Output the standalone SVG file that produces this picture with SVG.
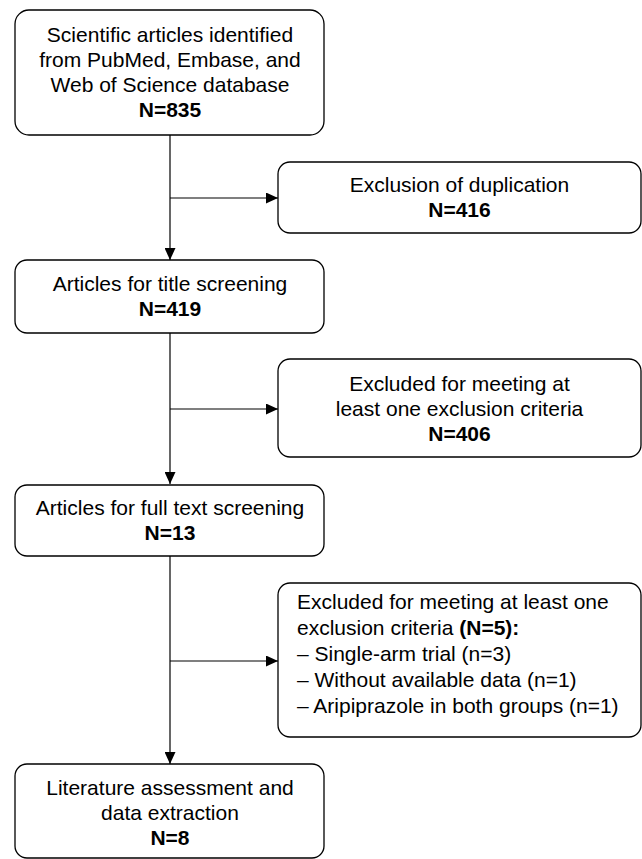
<svg xmlns="http://www.w3.org/2000/svg" width="642" height="859" viewBox="0 0 642 859">
<style>
.box{fill:#fff;stroke:#000;stroke-width:1.3}
.t{font-family:"Liberation Sans",Arial,sans-serif;font-size:21px;fill:#000}
.c{text-anchor:middle}
.b{font-weight:bold}
.ln{stroke:#000;stroke-width:1.2;fill:none}
</style>
<defs>
<marker id="ah" markerUnits="userSpaceOnUse" markerWidth="12" markerHeight="11" refX="12" refY="5.5" orient="auto">
<path d="M0,0 L12,5.5 L0,11 z" fill="#000"/>
</marker>
</defs>
<rect width="642" height="859" fill="#fff"/>
<g id="connectors">
<line class="ln" x1="170" y1="135" x2="170" y2="260" marker-end="url(#ah)"/>
<line class="ln" x1="170" y1="198" x2="278" y2="198" marker-end="url(#ah)"/>
<line class="ln" x1="170" y1="333" x2="170" y2="484" marker-end="url(#ah)"/>
<line class="ln" x1="170" y1="409" x2="278" y2="409" marker-end="url(#ah)"/>
<line class="ln" x1="170" y1="556" x2="170" y2="764" marker-end="url(#ah)"/>
<line class="ln" x1="170" y1="661" x2="278" y2="661" marker-end="url(#ah)"/>
</g>
<g id="n1">
<rect class="box" x="15" y="10" width="309" height="125" rx="14"/>
<text class="t c" x="170" y="42">Scientific articles identified</text>
<text class="t c" x="170" y="67">from PubMed, Embase, and</text>
<text class="t c" x="170" y="92">Web of Science database</text>
<text class="t c b" x="170" y="117">N=835</text>
</g>
<g id="n2">
<rect class="box" x="278" y="162" width="363" height="71" rx="12"/>
<text class="t c" x="459.5" y="192">Exclusion of duplication</text>
<text class="t c b" x="459.5" y="217">N=416</text>
</g>
<g id="n3">
<rect class="box" x="15" y="260" width="309" height="73" rx="12"/>
<text class="t c" x="170" y="291">Articles for title screening</text>
<text class="t c b" x="170" y="316">N=419</text>
</g>
<g id="n4">
<rect class="box" x="278" y="359" width="363" height="98" rx="12"/>
<text class="t c" x="459.5" y="391">Excluded for meeting at</text>
<text class="t c" x="459.5" y="416">least one exclusion criteria</text>
<text class="t c b" x="459.5" y="441">N=406</text>
</g>
<g id="n5">
<rect class="box" x="15" y="485" width="309" height="71" rx="12"/>
<text class="t c" x="170" y="515">Articles for full text screening</text>
<text class="t c b" x="170" y="540">N=13</text>
</g>
<g id="n6">
<rect class="box" x="278" y="583" width="363" height="154" rx="12"/>
<text class="t" x="297" y="609">Excluded for meeting at least one</text>
<text class="t" x="297" y="635">exclusion criteria <tspan class="b">(N=5):</tspan></text>
<text class="t" x="297" y="661">– Single-arm trial (n=3)</text>
<text class="t" x="297" y="687">– Without available data (n=1)</text>
<text class="t" x="297" y="713">– Aripiprazole in both groups (n=1)</text>
</g>
<g id="n7">
<rect class="box" x="15" y="764" width="309" height="94" rx="12"/>
<text class="t c" x="170" y="795">Literature assessment and</text>
<text class="t c" x="170" y="820">data extraction</text>
<text class="t c b" x="170" y="845">N=8</text>
</g>
</svg>
